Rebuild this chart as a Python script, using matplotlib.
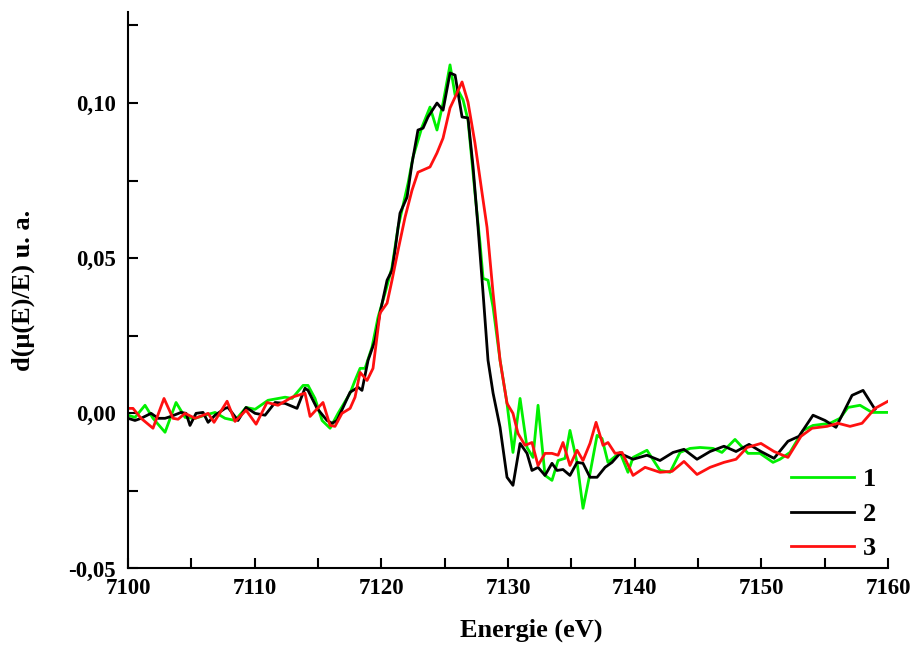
import numpy as np
import matplotlib
matplotlib.use('Agg')
import matplotlib.pyplot as plt
from matplotlib.ticker import MultipleLocator, FuncFormatter

plt.rcParams['font.family'] = 'Liberation Serif'
plt.rcParams['font.weight'] = 'bold'

# spectrum 1 (green)
e1 = [7100.0, 7100.55, 7101.34, 7101.97, 7102.92, 7103.79, 7104.5, 7105.29, 7106.08, 7106.87,
      7107.66, 7108.45, 7109.32, 7110.03, 7111.05, 7112.4, 7112.95, 7113.82, 7114.21, 7114.76,
      7115.32, 7115.95, 7116.58, 7117.53, 7117.92, 7118.32, 7118.71, 7119.26, 7119.74, 7120.29,
      7120.84, 7121.32, 7122.11, 7122.5, 7123.21, 7123.84, 7124.39, 7124.87, 7125.42, 7125.82,
      7126.05, 7126.45, 7126.84, 7127.39, 7127.79, 7128.03, 7128.42, 7128.82, 7129.37, 7129.92,
      7130.39, 7130.95, 7131.5, 7131.97, 7132.37, 7132.92, 7133.47, 7133.95, 7134.5, 7134.89,
      7135.45, 7135.92, 7136.47, 7137.03, 7137.42, 7137.89, 7138.84, 7139.47, 7139.87, 7140.97,
      7142.0, 7142.79, 7143.58, 7144.37, 7145.16, 7146.18, 7146.89, 7147.92, 7148.95, 7149.89,
      7150.92, 7151.47, 7152.26, 7153.29, 7154.08, 7155.42, 7156.21, 7156.84, 7157.79, 7158.74,
      7159.92]
d1 = [-0.0006, -0.0013, 0.0026, -0.0016, -0.0061, 0.0035, -0.0013, -0.0016, -0.0006, 0.0003,
      -0.0016, -0.0023, 0.0019, 0.0013, 0.0042, 0.0052, 0.0048, 0.0090, 0.0090, 0.0048,
      -0.0023, -0.0048, 0.0000, 0.0065, 0.0106, 0.0145, 0.0145, 0.0213, 0.0310, 0.0387,
      0.0471, 0.0600, 0.0742, 0.0826, 0.0923, 0.0987, 0.0913, 0.1000, 0.1123, 0.1026,
      0.1042, 0.1010, 0.0945, 0.0710, 0.0548, 0.0435, 0.0429, 0.0342, 0.0171, 0.0032,
      -0.0126, 0.0048, -0.0110, -0.0142, 0.0026, -0.0200, -0.0216, -0.0152, -0.0145, -0.0055,
      -0.0158, -0.0306, -0.0194, -0.0071, -0.0081, -0.0158, -0.0126, -0.0190, -0.0142, -0.0119,
      -0.0184, -0.0190, -0.0126, -0.0113, -0.0110, -0.0113, -0.0126, -0.0084, -0.0129, -0.0129,
      -0.0158, -0.0148, -0.0126, -0.0055, -0.0039, -0.0032, -0.0016, 0.0019, 0.0026, 0.0003,
      0.0003]

# spectrum 2 (black)
e2 = [7100.0, 7100.55, 7101.03, 7101.82, 7102.37, 7102.92, 7103.39, 7104.18, 7104.58, 7104.89,
      7105.37, 7105.92, 7106.32, 7106.87, 7107.66, 7107.89, 7108.68, 7109.32, 7110.03, 7110.82,
      7111.61, 7112.4, 7113.34, 7113.97, 7114.21, 7114.92, 7115.71, 7116.11, 7116.5, 7117.53,
      7118.16, 7118.47, 7118.95, 7119.5, 7119.89, 7120.45, 7120.84, 7121.08, 7121.47, 7122.03,
      7122.42, 7122.89, 7123.29, 7123.68, 7124.39, 7124.87, 7125.42, 7125.82, 7126.37, 7126.84,
      7127.24, 7127.63, 7128.03, 7128.42, 7128.82, 7129.37, 7129.92, 7130.39, 7130.95, 7131.5,
      7131.89, 7132.37, 7132.92, 7133.47, 7133.87, 7134.34, 7134.89, 7135.45, 7135.92, 7136.47,
      7137.03, 7137.66, 7138.21, 7138.84, 7139.87, 7140.97, 7142.0, 7143.03, 7143.89, 7144.92,
      7145.95, 7147.05, 7148.0, 7149.03, 7149.97, 7151.0, 7152.1, 7152.97, 7154.08, 7155.03,
      7155.89, 7157.16, 7158.03, 7158.97]
d2 = [-0.0016, -0.0023, -0.0016, 0.0000, -0.0016, -0.0016, -0.0010, 0.0003, 0.0000, -0.0039,
      0.0000, 0.0003, -0.0029, -0.0006, 0.0016, 0.0019, -0.0023, 0.0019, 0.0000, -0.0006,
      0.0035, 0.0032, 0.0016, 0.0081, 0.0074, 0.0016, -0.0023, -0.0032, -0.0023, 0.0068,
      0.0084, 0.0074, 0.0171, 0.0235, 0.0323, 0.0429, 0.0461, 0.0526, 0.0645, 0.0697,
      0.0806, 0.0913, 0.0919, 0.0955, 0.1000, 0.0977, 0.1097, 0.1090, 0.0955, 0.0952,
      0.0794, 0.0600, 0.0387, 0.0171, 0.0065, -0.0045, -0.0206, -0.0232, -0.0097, -0.0129,
      -0.0184, -0.0174, -0.0200, -0.0161, -0.0184, -0.0181, -0.0200, -0.0158, -0.0161, -0.0206,
      -0.0206, -0.0174, -0.0158, -0.0129, -0.0148, -0.0135, -0.0152, -0.0126, -0.0116, -0.0148,
      -0.0123, -0.0106, -0.0123, -0.0100, -0.0123, -0.0145, -0.0090, -0.0074, -0.0006, -0.0023,
      -0.0045, 0.0058, 0.0074, 0.0013]

# spectrum 3 (red)
e3 = [7100.0, 7100.39, 7101.03, 7101.97, 7102.84, 7103.55, 7103.95, 7104.5, 7105.29, 7106.32,
      7106.79, 7107.82, 7108.45, 7109.32, 7110.11, 7110.97, 7111.84, 7112.95, 7113.97, 7114.37,
      7115.39, 7115.95, 7116.34, 7116.89, 7117.53, 7117.92, 7118.32, 7118.87, 7119.34, 7119.89,
      7120.45, 7120.84, 7121.32, 7121.87, 7122.42, 7122.89, 7123.84, 7124.39, 7124.87, 7125.42,
      7125.82, 7126.37, 7126.84, 7127.39, 7127.95, 7128.34, 7128.82, 7129.37, 7129.92, 7130.39,
      7130.79, 7131.34, 7131.89, 7132.37, 7132.92, 7133.47, 7133.95, 7134.34, 7134.89, 7135.45,
      7135.92, 7136.47, 7136.95, 7137.5, 7137.89, 7138.45, 7139.0, 7139.87, 7140.82, 7142.0,
      7142.95, 7143.89, 7144.92, 7145.95, 7147.05, 7148.0, 7148.87, 7149.97, 7151.0, 7152.1,
      7153.13, 7154.0, 7155.18, 7156.05, 7157.0, 7157.95, 7158.97, 7160.0]
d3 = [0.0016, 0.0016, -0.0016, -0.0048, 0.0048, -0.0016, -0.0019, 0.0000, -0.0016, 0.0000,
      -0.0029, 0.0039, -0.0026, 0.0010, -0.0035, 0.0035, 0.0026, 0.0052, 0.0065, -0.0010,
      0.0035, -0.0039, -0.0042, 0.0000, 0.0016, 0.0052, 0.0132, 0.0106, 0.0145, 0.0323,
      0.0355, 0.0429, 0.0526, 0.0632, 0.0719, 0.0777, 0.0794, 0.0839, 0.0887, 0.0984,
      0.1019, 0.1068, 0.1003, 0.0871, 0.0710, 0.0600, 0.0387, 0.0171, 0.0032, 0.0000,
      -0.0065, -0.0103, -0.0094, -0.0168, -0.0129, -0.0129, -0.0135, -0.0094, -0.0168, -0.0119,
      -0.0152, -0.0097, -0.0029, -0.0103, -0.0094, -0.0129, -0.0126, -0.0200, -0.0174, -0.0190,
      -0.0187, -0.0155, -0.0197, -0.0174, -0.0158, -0.0148, -0.0110, -0.0097, -0.0123, -0.0142,
      -0.0074, -0.0048, -0.0042, -0.0032, -0.0042, -0.0032, 0.0016, 0.0039]

labels = ['1', '2', '3']
colors = ['#00f000', 'black', '#ff1010']

fig = plt.figure(figsize=(9.12, 6.5), dpi=100)
ax = fig.add_axes([0.1404, 0.1254, 0.8333, 0.8569])

for e, d, lab, c in zip([e1, e2, e3], [d1, d2, d3], labels, colors):
    ax.plot(e, d, color=c, lw=2.0, label=lab)

ax.set_xlim(7100, 7160)
ax.set_ylim(-0.05, 0.1295)
ax.xaxis.set_major_locator(MultipleLocator(10))
ax.xaxis.set_minor_locator(MultipleLocator(5))
ax.yaxis.set_major_locator(MultipleLocator(0.05))
ax.yaxis.set_minor_locator(MultipleLocator(0.025))
ax.yaxis.set_major_formatter(FuncFormatter(lambda v, p: '{:.2f}'.format(v).replace('.', ',')))

for s in ['top', 'right']:
    ax.spines[s].set_visible(False)
for s in ['left', 'bottom']:
    ax.spines[s].set_linewidth(1.5)
ax.tick_params(which='major', direction='in', length=7, width=1.5, labelsize=16.5, pad=7)
ax.tick_params(which='minor', direction='in', length=7, width=1.5)
ax.tick_params(axis='y', pad=9)
for t in ax.get_xticklabels() + ax.get_yticklabels():
    t.set_fontweight('bold')

ax.set_xlabel('Energie (eV)', fontsize=19, fontweight='bold', labelpad=16)
ax.xaxis.set_label_coords(0.53, -0.09)
ax.set_ylabel('d(μ(E)/E) u. a.', fontsize=19, fontweight='bold', labelpad=24)

leg = ax.legend(loc='lower right', bbox_to_anchor=(1.016, -0.028), frameon=False,
                prop={'size': 19, 'weight': 'bold'}, handlelength=2.4, labelspacing=0.42,
                handletextpad=0.35)

fig.savefig('out.png', dpi=100)
